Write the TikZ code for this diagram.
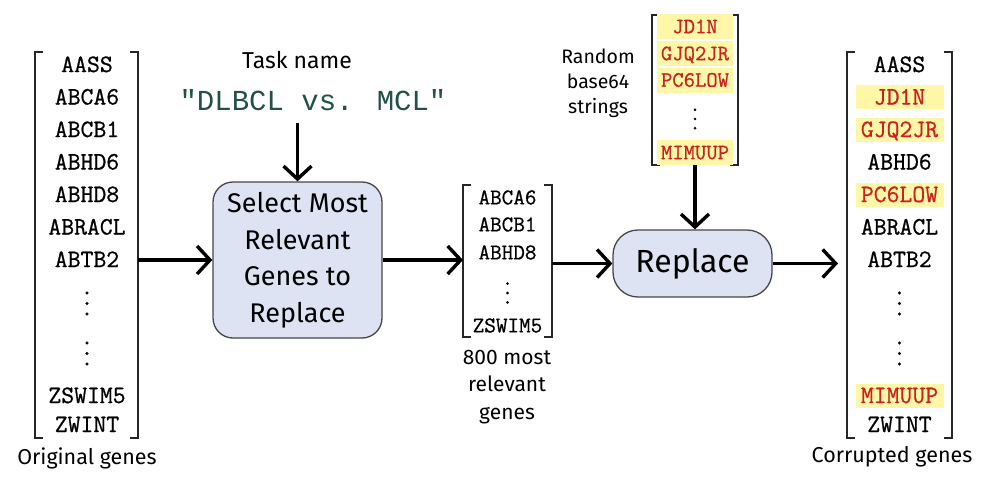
\documentclass[tikz,border=0pt]{standalone}
\usepackage{fontspec}
\setmainfont{Fira Sans}
\newfontfamily\taskfont{Liberation Mono}
\newfontfamily\genefont{Latin Modern Mono}[FakeBold=0.8]
\usetikzlibrary{arrows.meta}

\definecolor{boxfill}{RGB}{222,227,243}
\definecolor{boxline}{RGB}{70,70,70}
\definecolor{hilite}{RGB}{255,247,168}
\definecolor{randred}{RGB}{200,35,30}
\definecolor{taskteal}{RGB}{35,80,72}

% three dots whose spacing follows the font size
\newcommand{\vdotz}{\vbox{\baselineskip=0.42em\lineskiplimit=0pt\hbox{.}\hbox{.}\hbox{.}}}
% square brackets round a column node
\newcommand{\genebrackets}[1]{%
  \draw[brk] ([xshift=8pt]#1.north west) -| (#1.south west) -- ++(8pt,0);
  \draw[brk] ([xshift=-8pt]#1.north east) -| (#1.south east) -- ++(-8pt,0);}

\begin{document}
\begin{tikzpicture}[x=1pt,y=-1pt,
    gene/.style={font=\fontsize{25}{25}\genefont, inner sep=0pt, text height=15pt, text depth=0pt},
    swap/.style={gene, text=randred, fill=hilite, minimum width=88pt, minimum height=24pt},
    midgene/.style={font=\fontsize{22.5}{22.5}\genefont, inner sep=0pt, text height=13.7pt, text depth=0pt},
    rndgene/.style={font=\fontsize{22}{22}\genefont, inner sep=0pt, text height=13.4pt, text depth=0pt,
        text=randred, fill=hilite, minimum width=76pt, minimum height=25pt},
    dotrow/.style={font=\fontsize{25}{25}\genefont, inner sep=0pt},
    col/.style={inner sep=0pt, outer sep=0pt},
    brk/.style={line width=1.6pt, black!85},
    proc/.style={draw=boxline, fill=boxfill, line width=1.3pt, align=center},
    lbl/.style={inner sep=0pt, align=center},
    flow/.style={line width=3.4pt, -{Straight Barb[length=13pt,width=28pt]}}]
\useasboundingbox (0,0) rectangle (984,482);

% original genes
\node[col, minimum width=103pt, minimum height=386pt] (orig) at (86.5,245) {};
\genebrackets{orig}
\foreach \g/\y [count=\i] in {AASS/64.5, ABCA6/97, ABCB1/129.5, ABHD6/162, ABHD8/194.5,
    ABRACL/227, ABTB2/259.5, ZSWIM5/395.5, ZWINT/424.5}
  \node[gene] (o\i) at (87,\y) {\g};
\node[dotrow] (od1) at (87,303.5) {\vdotz};
\node[dotrow] (od2) at (87,353.5) {\vdotz};
\node[lbl, font=\fontsize{21.5}{24}\selectfont] (origlbl) at (87,458) {Original genes};

% task
\node[lbl, font=\fontsize{23}{26}\selectfont] (tasklbl) at (297,60) {Task name};
\node[lbl, font=\fontsize{29}{30}\taskfont, text=taskteal] (taskstr) at (313,100) {"DLBCL vs. MCL"};
\coordinate (taskin) at (297.5,123);

\node[proc, minimum width=169pt, minimum height=156pt, rounded corners=20pt,
    font=\fontsize{27}{36.5}\selectfont] (select) at (297.5,260)
    {Select Most\\Relevant\\Genes to\\Replace};

% most relevant genes
\node[col, minimum width=89pt, minimum height=152pt] (rel) at (507.5,261) {};
\genebrackets{rel}
\foreach \g/\y [count=\i] in {ABCA6/197.5, ABCB1/224.5, ABHD8/252.5, ZSWIM5/325.5}
  \node[midgene] (r\i) at (507.5,\y) {\g};
\node[dotrow, font=\fontsize{22.5}{22.5}\genefont] (rd) at (507.5,293) {\vdotz};
\node[lbl, font=\fontsize{21}{27.5}\selectfont] (rellbl) at (507,387) {800 most\\relevant\\genes};

% random strings
\node[col, minimum width=86pt, minimum height=150pt] (rand) at (695,90) {};
\genebrackets{rand}
\foreach \g/\y [count=\i] in {JD1N/26.5, GJQ2JR/53.5, PC6LOW/80, MIMUUP/152.5}
  \node[rndgene] (s\i) at (695,\y) {\g};
\node[dotrow, font=\fontsize{22}{22}\genefont] (sd) at (695,119) {\vdotz};
\node[lbl, font=\fontsize{19.5}{25}\selectfont] (randlbl) at (598,83) {Random\\base64\\strings};

\node[proc, minimum width=159pt, minimum height=67pt, rounded corners=25pt,
    font=\fontsize{32}{36}\selectfont] (replace) at (692.5,263.5) {Replace};

% corrupted genes
\node[col, minimum width=105pt, minimum height=386pt] (corrupt) at (899.5,245) {};
\genebrackets{corrupt}
\foreach \g/\y/\s [count=\i] in {AASS/64.5/gene, JD1N/97/swap, GJQ2JR/129.5/swap, ABHD6/162/gene,
    PC6LOW/194.5/swap, ABRACL/227/gene, ABTB2/259.5/gene, MIMUUP/395.5/swap, ZWINT/424.5/gene}
  \node[\s] (c\i) at (899.5,\y) {\g};
\node[dotrow] (cd1) at (899.5,303.5) {\vdotz};
\node[dotrow] (cd2) at (899.5,353.5) {\vdotz};
\node[lbl, font=\fontsize{21.5}{24}\selectfont] (corrlbl) at (892,457) {Corrupted genes};

% connectors
\draw[flow] (orig.east |- select.west) -- (select.west);
\draw[flow] (taskin) -- (select.north);
\draw[flow] (select.east) -- (select.east -| rel.west);
\draw[flow] (rel.east |- replace.west) -- (replace.west);
\draw[flow] (rand.south) -- (rand.south |- replace.north);
\draw[flow] (replace.east) -- ([xshift=-9pt]corrupt.west |- replace.east);
\end{tikzpicture}
\end{document}
